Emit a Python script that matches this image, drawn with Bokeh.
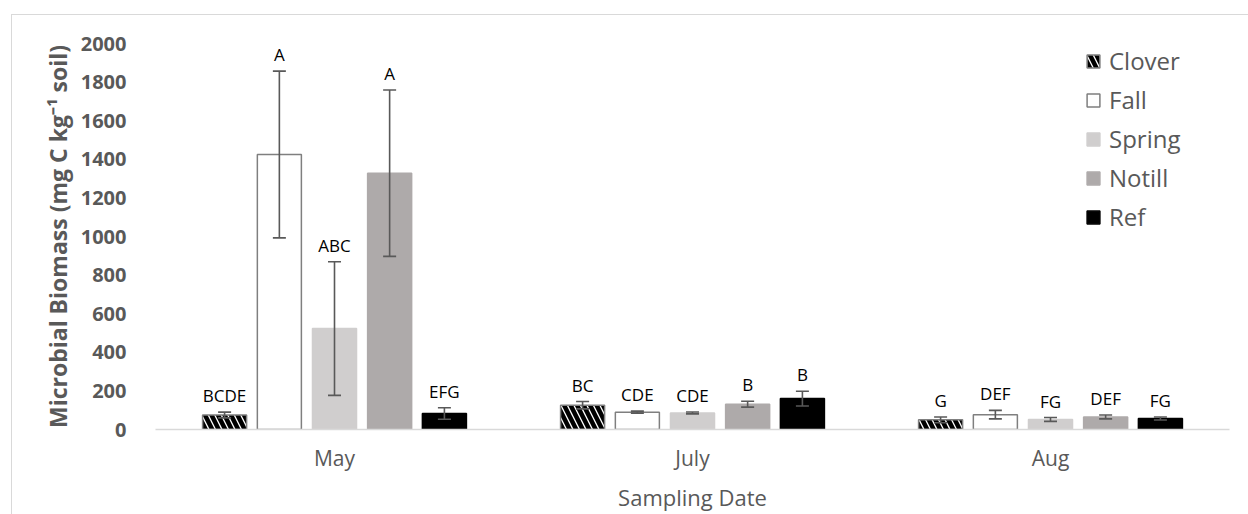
from bokeh.plotting import figure
from bokeh.models import (ColumnDataSource, FactorRange, Range1d, SingleIntervalTicker,
                          Legend, LegendItem, LabelSet, InlineStyleSheet)
from bokeh.core.properties import value
from bokeh.transform import dodge
from bokeh.embed import file_html
from bokeh.resources import INLINE

# ---------------- data ----------------
dates = ["May", "July", "Aug"]
series = ["Clover", "Fall", "Spring", "Notill", "Ref"]

clover = [75, 126, 50]
fall = [1425, 90, 77]
spring = [523, 86, 52]
notill = [1328, 131, 65]
ref = [83, 160, 57]

clover_err = [15, 19, 15]
fall_err = [432, 5, 22]
spring_err = [346, 5, 10]
notill_err = [431, 15, 10]
ref_err = [30, 38, 8]

clover_lbl = ["BCDE", "BC", "G"]
fall_lbl = ["A", "CDE", "DEF"]
spring_lbl = ["ABC", "CDE", "FG"]
notill_lbl = ["A", "B", "DEF"]
ref_lbl = ["EFG", "B", "FG"]

values = [clover, fall, spring, notill, ref]
errors = [clover_err, fall_err, spring_err, notill_err, ref_err]
letters = [clover_lbl, fall_lbl, spring_lbl, notill_lbl, ref_lbl]

# ---------------- styles ----------------
offsets = [-0.307, -0.154, 0.0, 0.154, 0.307]
bar_w = 0.123
fills = ["white", "white", "#d0cece", "#aeaaaa", "#000000"]
lines = ["#7f7f7f", "#7f7f7f", "#d0cece", "#aeaaaa", "#000000"]
hatches = ["\\", None, None, None, None]
gray = "#595959"
FONT = "Open Sans"

frame_css = InlineStyleSheet(css="""
:host { position: relative; }
:host::after {
  content: ""; position: absolute; left: 11px; top: 14px; right: 0; bottom: 0;
  border-left: 1.5px solid #d9d9d9; border-top: 1.5px solid #d9d9d9;
  pointer-events: none;
}
""")

p = figure(width=1248, height=514, x_range=FactorRange(*dates), y_range=Range1d(0, 2000),
           output_backend="svg", toolbar_location=None,
           min_border_left=155, min_border_right=19, min_border_top=43, min_border_bottom=84,
           stylesheets=[frame_css])
p.x_range.range_padding = 0
p.outline_line_color = None
p.grid.visible = False
p.background_fill_color = "white"
p.border_fill_color = "white"

# axes
p.yaxis.ticker = SingleIntervalTicker(interval=200, num_minor_ticks=0)
p.yaxis.axis_line_color = None
p.yaxis.major_tick_line_color = None
p.yaxis.minor_tick_line_color = None
p.yaxis.major_label_text_font = FONT
p.yaxis.major_label_text_font_style = "bold"
p.yaxis.major_label_text_font_size = "20px"
p.yaxis.major_label_text_color = gray
p.yaxis.major_label_standoff = 23
p.yaxis.axis_label = "Microbial Biomass (mg C kg\u207b\u00b9 soil)"
p.yaxis.axis_label_text_font = FONT
p.yaxis.axis_label_text_font_style = "bold"
p.yaxis.axis_label_text_font_size = "23px"
p.yaxis.axis_label_text_color = gray
p.yaxis.axis_label_standoff = 4

p.xaxis.axis_line_color = "#d9d9d9"
p.xaxis.axis_line_width = 1.5
p.xaxis.major_tick_line_color = None
p.xaxis.minor_tick_line_color = None
p.xaxis.major_label_text_font = FONT
p.xaxis.major_label_text_font_size = "21px"
p.xaxis.major_label_text_color = gray
p.xaxis.major_label_standoff = 8
p.xaxis.axis_label = "Sampling Date"
p.xaxis.axis_label_text_font = FONT
p.xaxis.axis_label_text_font_style = "normal"
p.xaxis.axis_label_text_font_size = "22px"
p.xaxis.axis_label_text_color = gray
p.xaxis.axis_label_standoff = 7

items = []
for i, name in enumerate(series):
    src = ColumnDataSource(dict(
        date=dates,
        value=values[i],
        upper=[v + e for v, e in zip(values[i], errors[i])],
        lower=[v - e for v, e in zip(values[i], errors[i])],
        label=letters[i],
    ))
    xs = dodge("date", offsets[i], range=p.x_range)
    kw = {}
    if hatches[i]:
        kw = dict(hatch_pattern=hatches[i], hatch_color="black", hatch_weight=4.5, hatch_scale=13)
    r = p.vbar(x=xs, top="value", width=bar_w, source=src, fill_color=fills[i],
               line_color=lines[i], line_width=1.5, **kw)
    items.append(LegendItem(label=name, renderers=[r]))
    p.segment(x0=xs, y0="lower", x1=xs, y1="upper", source=src, line_color=gray, line_width=1.6)
    p.scatter(x=xs, y="upper", marker="dash", size=13, source=src, line_color=gray, line_width=1.6)
    p.scatter(x=xs, y="lower", marker="dash", size=13, source=src, line_color=gray, line_width=1.6)
    p.add_layout(LabelSet(x=xs, y="upper", text="label", source=src, y_offset=10,
                          text_align="center", text_baseline="alphabetic",
                          text_font=value(FONT), text_font_size="17px", text_color="black"))

legend = Legend(items=items, location=(930, 196), background_fill_alpha=0,
                border_line_color=None, padding=0, margin=0, spacing=6,
                glyph_width=16, glyph_height=16, label_standoff=8,
                label_text_font=FONT, label_text_font_size="24px", label_text_color=gray)
p.add_layout(legend)

open("out.html", "w").write(file_html(p, INLINE))
